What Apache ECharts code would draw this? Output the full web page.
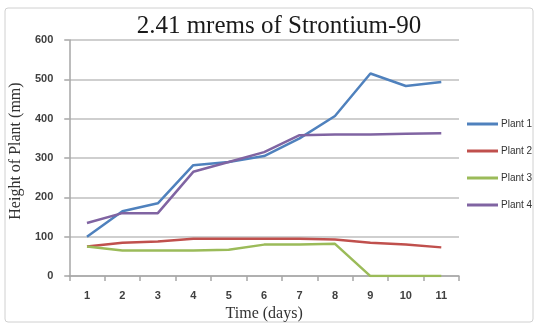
<!DOCTYPE html>
<html>
<head>
<meta charset="utf-8">
<script src="https://cdn.jsdelivr.net/npm/echarts@6/dist/echarts.min.js"></script>
<style>
  html, body { margin: 0; padding: 0; background: #ffffff; }
  #chart { width: 538px; height: 327px; }
</style>
</head>
<body>
<div id="chart"></div>
<script>
// Days of observation
const days = ['1', '2', '3', '4', '5', '6', '7', '8', '9', '10', '11'];

// Plant heights in mm for each day
const plant1 = [100, 165, 185, 282, 290, 305, 350, 407, 515, 483, 493];
const plant2 = [75, 85, 88, 95, 95, 95, 95, 93, 85, 80, 73];
const plant3 = [75, 65, 65, 65, 67, 80, 80, 82, 0, 0, 0];
const plant4 = [135, 160, 160, 265, 290, 315, 358, 360, 360, 362, 363];

const seriesNames = ['Plant 1', 'Plant 2', 'Plant 3', 'Plant 4'];
const seriesData = [plant1, plant2, plant3, plant4];
const seriesColors = ['#4f81bd', '#c0504d', '#9bbb59', '#8064a2'];

// Value axis ticks
const yMin = 0;
const yMax = 600;
const yStep = 100;

const chart = echarts.init(document.getElementById('chart'), null, { renderer: 'canvas' });

const serif = '"Liberation Serif", "DejaVu Serif", serif';
const sans = '"Liberation Sans", "DejaVu Sans", sans-serif';

chart.setOption({
  animation: false,
  backgroundColor: '#ffffff',
  graphic: [{
    type: 'rect',
    shape: { x: 5, y: 8, width: 528, height: 314, r: 3 },
    style: { fill: 'none', stroke: '#d0d0d0', lineWidth: 1 },
    silent: true,
    z: -1
  }],
  title: {
    text: '2.41 mrems of Strontium-90',
    left: 274,
    textAlign: 'center',
    top: 9,
    textStyle: { fontFamily: serif, fontSize: 25, fontWeight: 'normal', color: '#1a1a1a' }
  },
  legend: {
    orient: 'vertical',
    left: 462,
    top: 112,
    icon: 'rect',
    itemWidth: 31,
    itemHeight: 3,
    itemGap: 13,
    textStyle: { fontFamily: sans, fontSize: 10, color: '#333333', lineHeight: 14, padding: [0, 0, 0, -2] },
    data: seriesNames
  },
  grid: { left: 68, right: 79, top: 40, bottom: 38, containLabel: false },
  xAxis: {
    type: 'category',
    data: days,
    boundaryGap: true,
    name: 'Time (days)',
    nameLocation: 'middle',
    nameGap: 24,
    nameTextStyle: { fontFamily: serif, fontSize: 16, color: '#333333' },
    axisLine: { lineStyle: { color: '#a6a6a6', width: 1.5 } },
    axisTick: { show: true, length: 5, lineStyle: { color: '#a6a6a6', width: 1.5 } },
    axisLabel: { margin: 14, fontFamily: sans, fontSize: 11, fontWeight: 'bold', color: '#404040' },
    splitLine: { show: false }
  },
  yAxis: {
    type: 'value',
    min: yMin,
    max: yMax,
    interval: yStep,
    name: 'Height of Plant (mm)',
    nameLocation: 'middle',
    nameGap: 41,
    nameTextStyle: { fontFamily: serif, fontSize: 16, color: '#333333', padding: [0, 0, 0, 14] },
    axisLine: { show: true, lineStyle: { color: '#a6a6a6', width: 1.5 } },
    axisTick: { show: true, length: 5, lineStyle: { color: '#a6a6a6', width: 1.5 } },
    axisLabel: { margin: 16, fontFamily: sans, fontSize: 11, fontWeight: 'bold', color: '#404040' },
    splitLine: { show: true, lineStyle: { color: '#bfbfbf', width: 1.5 } }
  },
  series: seriesNames.map((name, i) => ({
    name: name,
    type: 'line',
    data: seriesData[i],
    color: seriesColors[i],
    showSymbol: false,
    symbol: 'none',
    lineStyle: { width: 2.5, color: seriesColors[i] },
    itemStyle: { color: seriesColors[i] }
  }))
});
</script>
</body>
</html>
